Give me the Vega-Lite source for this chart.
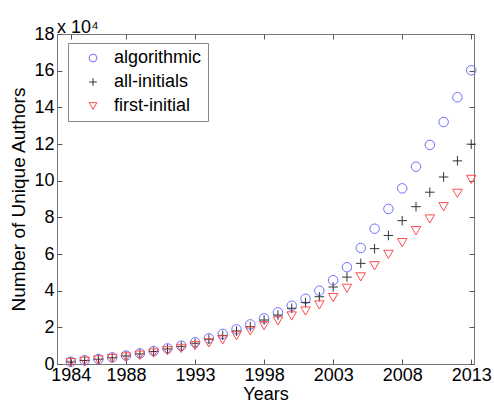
{
  "$schema": "https://vega.github.io/schema/vega-lite/v6.json",
  "width": 417,
  "height": 330,
  "autosize": {"type": "none"},
  "padding": {"left": 57, "top": 34, "right": 20, "bottom": 41},
  "background": "white",
  "title": {"text": "x 10⁴", "anchor": "start", "frame": "group", "font": "Liberation Sans", "fontSize": 18, "fontWeight": "normal", "color": "black", "offset": -12},
  "config": {
    "view": {"stroke": "#777777", "strokeWidth": 1},
    "font": "Liberation Sans",
    "axis": {"labelFont": "Liberation Sans", "titleFont": "Liberation Sans", "labelColor": "black", "titleColor": "black", "titleFontWeight": "normal", "grid": false, "domain": false, "tickColor": "#555555", "tickSize": -5}
  },
  "data": {"values": [
    {"year":1984,"series":"algorithmic","authors":1200},{"year":1985,"series":"algorithmic","authors":2000},{"year":1986,"series":"algorithmic","authors":2700},{"year":1987,"series":"algorithmic","authors":3600},{"year":1988,"series":"algorithmic","authors":4600},{"year":1989,"series":"algorithmic","authors":5800},{"year":1990,"series":"algorithmic","authors":7100},{"year":1991,"series":"algorithmic","authors":8500},{"year":1992,"series":"algorithmic","authors":10000},{"year":1993,"series":"algorithmic","authors":11800},{"year":1994,"series":"algorithmic","authors":14000},{"year":1995,"series":"algorithmic","authors":16400},{"year":1996,"series":"algorithmic","authors":18900},{"year":1997,"series":"algorithmic","authors":21600},{"year":1998,"series":"algorithmic","authors":24900},{"year":1999,"series":"algorithmic","authors":28200},{"year":2000,"series":"algorithmic","authors":31800},{"year":2001,"series":"algorithmic","authors":35600},{"year":2002,"series":"algorithmic","authors":40000},{"year":2003,"series":"algorithmic","authors":45700},{"year":2004,"series":"algorithmic","authors":52800},{"year":2005,"series":"algorithmic","authors":63300},{"year":2006,"series":"algorithmic","authors":73800},{"year":2007,"series":"algorithmic","authors":84600},{"year":2008,"series":"algorithmic","authors":95800},{"year":2009,"series":"algorithmic","authors":107600},{"year":2010,"series":"algorithmic","authors":119500},{"year":2011,"series":"algorithmic","authors":132000},{"year":2012,"series":"algorithmic","authors":145500},{"year":2013,"series":"algorithmic","authors":160200},
    {"year":1984,"series":"all-initials","authors":1100},{"year":1985,"series":"all-initials","authors":1900},{"year":1986,"series":"all-initials","authors":2600},{"year":1987,"series":"all-initials","authors":3400},{"year":1988,"series":"all-initials","authors":4400},{"year":1989,"series":"all-initials","authors":5500},{"year":1990,"series":"all-initials","authors":6800},{"year":1991,"series":"all-initials","authors":8200},{"year":1992,"series":"all-initials","authors":9600},{"year":1993,"series":"all-initials","authors":11300},{"year":1994,"series":"all-initials","authors":13500},{"year":1995,"series":"all-initials","authors":15600},{"year":1996,"series":"all-initials","authors":18000},{"year":1997,"series":"all-initials","authors":20400},{"year":1998,"series":"all-initials","authors":24000},{"year":1999,"series":"all-initials","authors":26700},{"year":2000,"series":"all-initials","authors":30400},{"year":2001,"series":"all-initials","authors":33500},{"year":2002,"series":"all-initials","authors":36700},{"year":2003,"series":"all-initials","authors":42000},{"year":2004,"series":"all-initials","authors":47400},{"year":2005,"series":"all-initials","authors":54900},{"year":2006,"series":"all-initials","authors":62900},{"year":2007,"series":"all-initials","authors":70100},{"year":2008,"series":"all-initials","authors":78200},{"year":2009,"series":"all-initials","authors":85800},{"year":2010,"series":"all-initials","authors":93700},{"year":2011,"series":"all-initials","authors":102000},{"year":2012,"series":"all-initials","authors":110800},{"year":2013,"series":"all-initials","authors":119900},
    {"year":1984,"series":"first-initial","authors":800},{"year":1985,"series":"first-initial","authors":1500},{"year":1986,"series":"first-initial","authors":2200},{"year":1987,"series":"first-initial","authors":3000},{"year":1988,"series":"first-initial","authors":3800},{"year":1989,"series":"first-initial","authors":4800},{"year":1990,"series":"first-initial","authors":6000},{"year":1991,"series":"first-initial","authors":7200},{"year":1992,"series":"first-initial","authors":8500},{"year":1993,"series":"first-initial","authors":10000},{"year":1994,"series":"first-initial","authors":11500},{"year":1995,"series":"first-initial","authors":13100},{"year":1996,"series":"first-initial","authors":15400},{"year":1997,"series":"first-initial","authors":18000},{"year":1998,"series":"first-initial","authors":20900},{"year":1999,"series":"first-initial","authors":23500},{"year":2000,"series":"first-initial","authors":26200},{"year":2001,"series":"first-initial","authors":28900},{"year":2002,"series":"first-initial","authors":32200},{"year":2003,"series":"first-initial","authors":36200},{"year":2004,"series":"first-initial","authors":41300},{"year":2005,"series":"first-initial","authors":47500},{"year":2006,"series":"first-initial","authors":53600},{"year":2007,"series":"first-initial","authors":59800},{"year":2008,"series":"first-initial","authors":66200},{"year":2009,"series":"first-initial","authors":72700},{"year":2010,"series":"first-initial","authors":79100},{"year":2011,"series":"first-initial","authors":85800},{"year":2012,"series":"first-initial","authors":93100},{"year":2013,"series":"first-initial","authors":100700}
  ]},
  "layer": [
    {
      "mark": {"type": "point", "filled": false, "strokeWidth": 1, "opacity": 0},
      "encoding": {
        "x": {"field": "year", "type": "quantitative", "scale": {"domain": [1983, 2013.2], "nice": false, "zero": false},
              "axis": {"orient": "top", "labels": false, "title": null, "values": [1984, 1988, 1993, 1998, 2003, 2008, 2013]}},
        "y": {"field": "authors", "type": "quantitative", "scale": {"domain": [0, 180000], "nice": false},
              "axis": {"orient": "right", "labels": false, "title": null, "values": [0, 20000, 40000, 60000, 80000, 100000, 120000, 140000, 160000, 180000]}}
      }
    },
    {
      "mark": {"type": "point", "filled": false, "strokeWidth": 1, "opacity": 1, "size": 90},
      "encoding": {
        "x": {"field": "year", "type": "quantitative", "scale": {"domain": [1983, 2013.2], "nice": false, "zero": false},
              "axis": {"orient": "bottom", "title": "Years", "values": [1984, 1988, 1993, 1998, 2003, 2008, 2013], "format": "d", "labelFontSize": 18, "labelPadding": 7, "titleFontSize": 18, "titlePadding": 1, "labelFlush": false}},
        "y": {"field": "authors", "type": "quantitative", "scale": {"domain": [0, 180000], "nice": false},
              "axis": {"orient": "left", "title": "Number of Unique Authors", "values": [0, 20000, 40000, 60000, 80000, 100000, 120000, 140000, 160000, 180000], "labelExpr": "datum.value / 10000", "labelFontSize": 18, "labelPadding": 8, "titleFontSize": 19, "titlePadding": 5}},
        "color": {"field": "series", "type": "nominal",
                  "scale": {"domain": ["algorithmic", "all-initials", "first-initial"], "range": ["#6f6fff", "#333333", "#ff4d4d"]},
                  "legend": {"title": null, "orient": "none", "legendX": 11, "legendY": 9, "fillColor": "white", "strokeColor": "#888888", "padding": 6, "symbolOffset": 10, "labelOffset": 12, "rowPadding": 6, "labelFont": "Liberation Sans", "labelFontSize": 18, "labelColor": "black", "symbolSize": 60, "symbolStrokeWidth": 1, "symbolFillColor": "transparent"}},
        "shape": {"field": "series", "type": "nominal",
                  "scale": {"domain": ["algorithmic", "all-initials", "first-initial"], "range": ["circle", "M-1,0L1,0M0,-1L0,1", "triangle-down"]},
                  "legend": null}
      }
    }
  ],
  "resolve": {"axis": {"x": "independent", "y": "independent"}}
}
